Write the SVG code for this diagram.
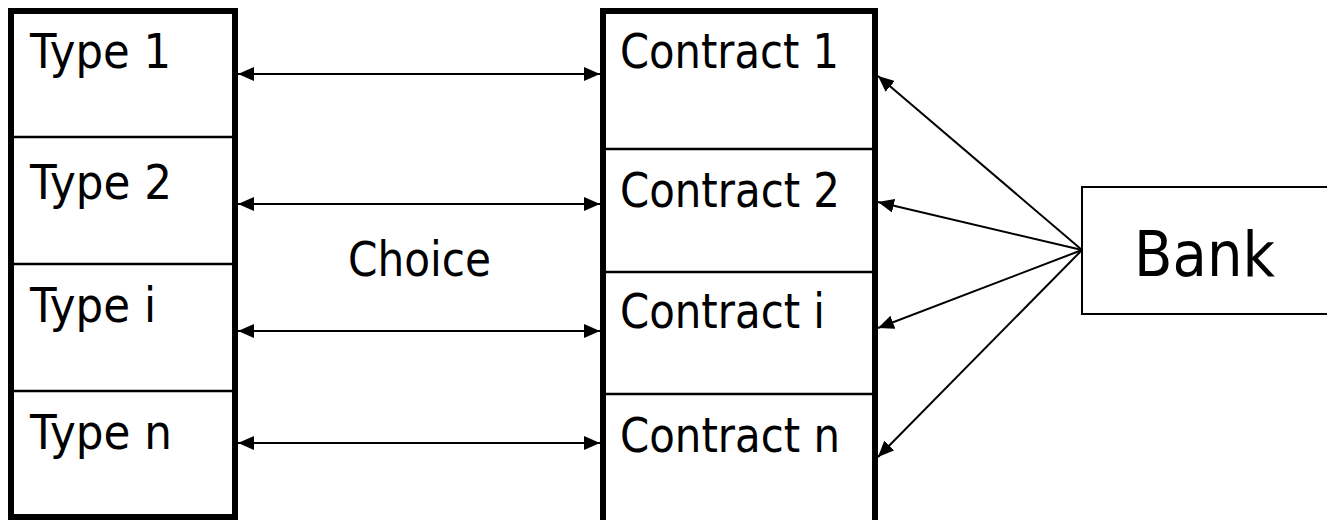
<svg xmlns="http://www.w3.org/2000/svg" width="1327" height="520" viewBox="0 0 1327 520">
  <style>
    .frame { fill: #ffffff; stroke: #000000; stroke-width: 6; }
    .divider { stroke: #000000; stroke-width: 2.5; }
    .thin { fill: #ffffff; stroke: #000000; stroke-width: 2; }
    .label { font-family: "DejaVu Sans", Verdana, sans-serif; font-size: 48px; fill: #000000; }
    .big { font-size: 63px; }
    .link { stroke: #000000; stroke-width: 2; fill: none; }
  </style>
  <defs>
    <marker id="head" viewBox="0 0 16 14" refX="16" refY="7" markerWidth="16" markerHeight="14" markerUnits="userSpaceOnUse" orient="auto-start-reverse">
      <path d="M0,0 L16,7 L0,14 Z" fill="#000000"/>
    </marker>
  </defs>

  <rect width="1327" height="520" fill="#ffffff"/>

  <!-- type column -->
  <g id="types">
    <rect class="frame" x="11" y="11" width="224" height="506"/>
    <line class="divider" x1="11" y1="137" x2="235" y2="137"/>
    <line class="divider" x1="11" y1="264" x2="235" y2="264"/>
    <line class="divider" x1="11" y1="391" x2="235" y2="391"/>
  </g>
  <g id="type-1"><text class="label" x="30" y="68" textLength="141" lengthAdjust="spacingAndGlyphs">Type 1</text></g>
  <g id="type-2"><text class="label" x="30" y="199" textLength="142" lengthAdjust="spacingAndGlyphs">Type 2</text></g>
  <g id="type-i"><text class="label" x="30" y="322" textLength="126" lengthAdjust="spacingAndGlyphs">Type i</text></g>
  <g id="type-n"><text class="label" x="30" y="449" textLength="142" lengthAdjust="spacingAndGlyphs">Type n</text></g>

  <!-- contract column -->
  <g id="contracts">
    <rect class="frame" x="603" y="11" width="272" height="530"/>
    <line class="divider" x1="603" y1="149" x2="875" y2="149"/>
    <line class="divider" x1="603" y1="272" x2="875" y2="272"/>
    <line class="divider" x1="603" y1="394" x2="875" y2="394"/>
  </g>
  <g id="contract-1"><text class="label" x="620" y="68" textLength="219" lengthAdjust="spacingAndGlyphs">Contract 1</text></g>
  <g id="contract-2"><text class="label" x="620" y="207" textLength="220" lengthAdjust="spacingAndGlyphs">Contract 2</text></g>
  <g id="contract-i"><text class="label" x="620" y="328" textLength="205" lengthAdjust="spacingAndGlyphs">Contract i</text></g>
  <g id="contract-n"><text class="label" x="620" y="452" textLength="220" lengthAdjust="spacingAndGlyphs">Contract n</text></g>

  <!-- bank -->
  <g id="bank">
    <rect class="thin" x="1082" y="187" width="260" height="127"/>
    <text class="label big" x="1134" y="276" textLength="141" lengthAdjust="spacingAndGlyphs">Bank</text>
  </g>

  <g id="choice">
    <text class="label" x="348" y="276" textLength="143" lengthAdjust="spacingAndGlyphs">Choice</text>
  </g>

  <!-- connectors -->
  <g id="connectors">
    <line class="link" x1="238" y1="74" x2="600" y2="74" marker-start="url(#head)" marker-end="url(#head)"/>
    <line class="link" x1="238" y1="204" x2="600" y2="204" marker-start="url(#head)" marker-end="url(#head)"/>
    <line class="link" x1="238" y1="331" x2="600" y2="331" marker-start="url(#head)" marker-end="url(#head)"/>
    <line class="link" x1="238" y1="443" x2="600" y2="443" marker-start="url(#head)" marker-end="url(#head)"/>

    <line class="link" x1="1082" y1="250" x2="878" y2="76" marker-end="url(#head)"/>
    <line class="link" x1="1082" y1="250" x2="878" y2="202" marker-end="url(#head)"/>
    <line class="link" x1="1082" y1="250" x2="878" y2="328" marker-end="url(#head)"/>
    <line class="link" x1="1082" y1="250" x2="878" y2="457" marker-end="url(#head)"/>
  </g>
</svg>
